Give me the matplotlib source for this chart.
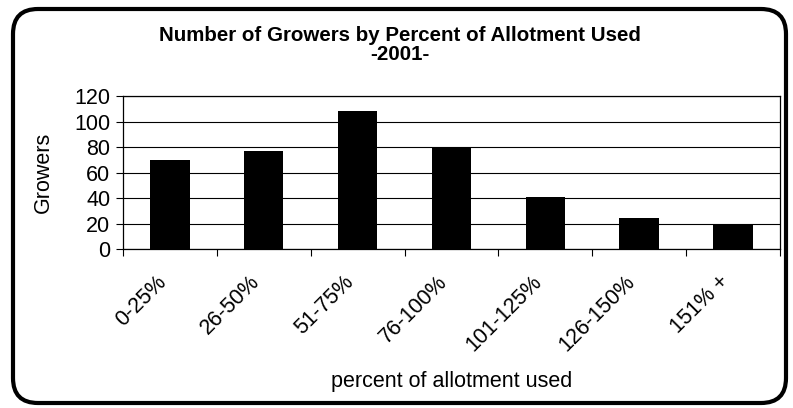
import matplotlib
matplotlib.use("Agg")
import matplotlib.pyplot as plt
from matplotlib.patches import FancyBboxPatch
from matplotlib.transforms import ScaledTranslation
import numpy as np

# Growers per allotment-use bracket, 2001
categories = ['0-25%', '26-50%', '51-75%', '76-100%', '101-125%', '126-150%', '151% +']
growers = [70, 77, 108, 79, 41, 25, 19]
y_ticks = [0, 20, 40, 60, 80, 100, 120]

plt.rcParams['font.family'] = ['Liberation Sans', 'DejaVu Sans']
fs = 15.5

fig = plt.figure(figsize=(7.93, 4.08), dpi=100)
ax = fig.add_axes([0.155, 0.3885, 0.8286, 0.3762])

x = np.arange(len(categories))
ax.bar(x, growers, width=0.42, color='black', zorder=3)

ax.set_xlim(-0.5, len(categories) - 0.5)
ax.set_ylim(0, 120)
ax.set_yticks(y_ticks)
ax.set_yticklabels([str(v) for v in y_ticks], fontsize=fs)
ax.yaxis.grid(True, color='black', linewidth=0.8, zorder=0)

# ticks sit between categories, labels under each bar
ax.set_xticks(np.arange(len(categories) + 1) - 0.5)
ax.set_xticklabels([])
ax.set_xticks(x, minor=True)
ax.set_xticklabels(categories, minor=True, rotation=45, ha='right', va='center',
                   rotation_mode='anchor', fontsize=fs)
ax.tick_params(axis='x', which='minor', length=0, pad=21)
ax.tick_params(axis='x', which='major', length=5, width=0.8)
ax.tick_params(axis='y', length=5, width=0.8, pad=4)
shift = ScaledTranslation(-7 / 100, 0, fig.dpi_scale_trans)
for lbl in ax.get_xticklabels(minor=True):
    lbl.set_transform(lbl.get_transform() + shift)
for s in ax.spines.values():
    s.set_linewidth(0.9)

fig.text(43 / 793, 0.577, 'Growers', rotation=90, ha='center', va='center', fontsize=fs)
fig.text(0.569, 0.066, 'percent of allotment used', ha='center', va='center', fontsize=fs)
fig.text(0.504, 0.914, 'Number of Growers by Percent of Allotment Used',
         ha='center', va='center', fontsize=14.8, fontweight='bold')
fig.text(0.504, 0.866, '-2001-', ha='center', va='center', fontsize=14.8, fontweight='bold')

# rounded frame around the whole chart
frame = FancyBboxPatch((0.13, 0.05), 7.73, 3.94,
                       boxstyle='round,pad=0,rounding_size=0.25',
                       transform=fig.dpi_scale_trans, fill=False,
                       edgecolor='black', linewidth=3)
fig.patches.append(frame)

fig.savefig('out.png', dpi=100)
